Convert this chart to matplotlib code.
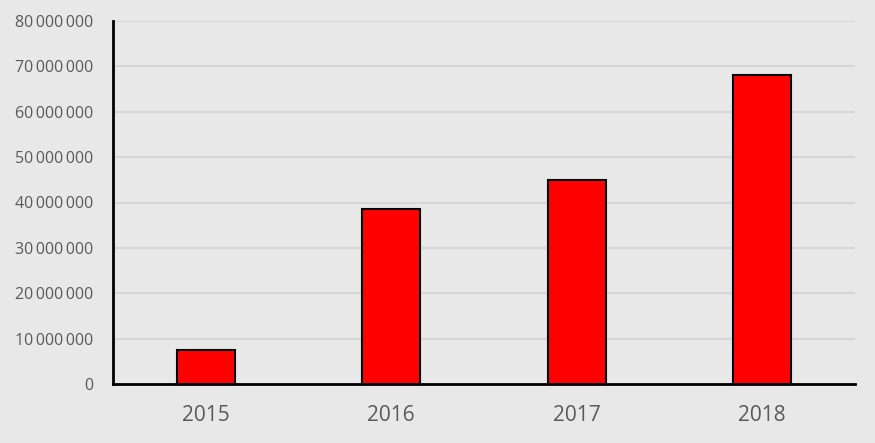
import matplotlib
matplotlib.use("Agg")
import matplotlib.pyplot as plt
from matplotlib.ticker import FuncFormatter

years = ["2015", "2016", "2017", "2018"]
values = [7_500_000, 38_600_000, 45_000_000, 68_200_000]
yticks = list(range(0, 80_000_001, 10_000_000))

plt.rcParams['font.family'] = ['Open Sans', 'DejaVu Sans']
bg = "#e8e8e8"
fig = plt.figure(figsize=(8.75, 4.43), dpi=100, facecolor=bg)
ax = fig.add_axes([113/875, 1-384/443, (855-113)/875, (384-21)/443], facecolor=bg)

x = range(len(years))
ax.bar(x, values, width=0.31, color="#ff0000", edgecolor="black", linewidth=1.5, zorder=3)
ax.set_xlim(-0.5, len(years)-0.5)
ax.set_ylim(0, 80_000_000)
ax.set_yticks(yticks)
ax.yaxis.set_major_formatter(FuncFormatter(lambda v, p: f"{int(v):,}".replace(",", "\u2009")))
ax.set_xticks(list(x))
ax.set_xticklabels(years)
ax.grid(axis="y", color="#d6d6d6", linewidth=1.5, zorder=0)
ax.set_axisbelow(True)
for s in ["top", "right"]:
    ax.spines[s].set_visible(False)
for s in ["left", "bottom"]:
    ax.spines[s].set_linewidth(2)
    ax.spines[s].set_color("black")
ax.tick_params(axis="y", length=0, pad=14, labelsize=11.5, labelcolor="#595959")
ax.tick_params(axis="x", length=0, pad=15, labelsize=15, labelcolor="#595959")

fig.savefig("out.png", dpi=100, facecolor=bg)
